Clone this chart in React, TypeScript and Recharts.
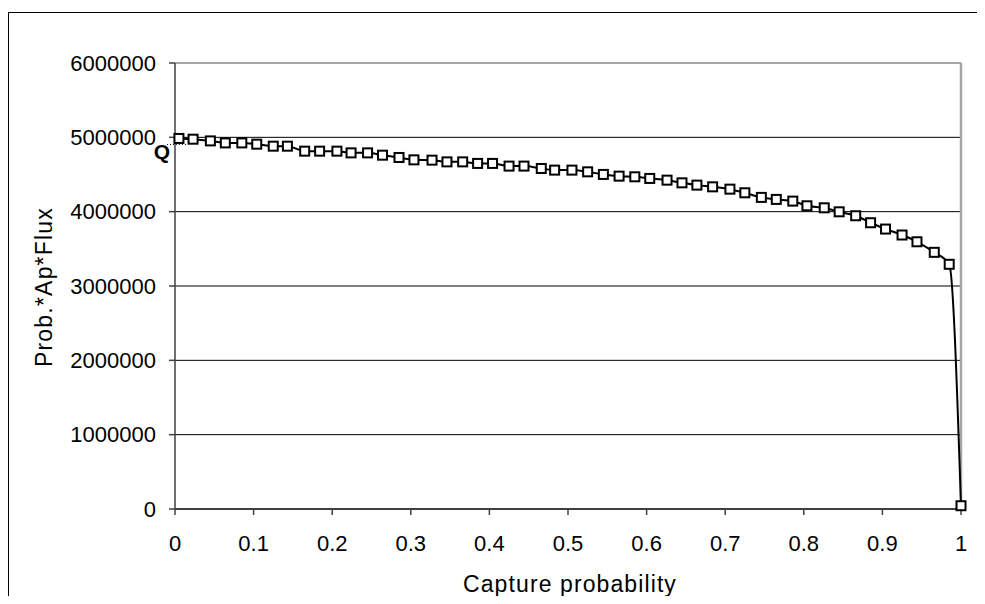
import {
  LineChart,
  Line,
  XAxis,
  YAxis,
  CartesianGrid,
  ReferenceLine,
  LabelList,
  Label,
} from "recharts";

// capture probability (x)
const capture = [
  0.005, 0.023, 0.045, 0.064, 0.085, 0.104, 0.125, 0.143, 0.165, 0.184,
  0.206, 0.224, 0.245, 0.264, 0.285, 0.304, 0.327, 0.346, 0.366, 0.385,
  0.404, 0.425, 0.444, 0.466, 0.483, 0.505, 0.525, 0.545, 0.565, 0.585,
  0.604, 0.626, 0.645, 0.664, 0.684, 0.706, 0.725, 0.746, 0.765, 0.786,
  0.804, 0.826, 0.845, 0.866, 0.885, 0.904, 0.925, 0.944, 0.966, 0.985,
  1.0,
];

// Prob.*Ap*Flux
const flux = [
  4985000, 4975000, 4952000, 4925000, 4925000, 4908000, 4881000, 4881000,
  4814000, 4814000, 4814000, 4791000, 4791000, 4760000, 4729000, 4697000,
  4693000, 4670000, 4670000, 4649000, 4649000, 4613000, 4613000, 4581000,
  4559000, 4559000, 4536000, 4501000, 4478000, 4469000, 4447000, 4424000,
  4388000, 4357000, 4334000, 4303000, 4254000, 4192000, 4165000, 4142000,
  4079000, 4052000, 3998000, 3945000, 3851000, 3766000, 3686000, 3595000,
  3453000, 3292000, 44000,
];

const xTicks = [0, 0.1, 0.2, 0.3, 0.4, 0.5, 0.6, 0.7, 0.8, 0.9, 1];
const yTicks = [0, 1000000, 2000000, 3000000, 4000000, 5000000, 6000000];
const gridLevels = [1000000, 2000000, 3000000, 4000000, 5000000];

const data = capture.map((c, i) => ({ capture: c, flux: flux[i] }));

const FONT = "'Liberation Sans', Arial, sans-serif";

const SquareDot = (props: any) => {
  const { cx, cy, index } = props;
  if (cx == null || cy == null) return null;
  return (
    <rect
      key={"dot" + index}
      x={cx - 4.5}
      y={cy - 4.5}
      width={9}
      height={9}
      fill="#fff"
      stroke="#000"
      strokeWidth={2}
    />
  );
};

const QLabel = (props: any) => {
  const { x, y, index } = props;
  if (index !== 0) return null;
  return (
    <g>
      <line
        x1={x - 12}
        y1={y + 6}
        x2={x + 8}
        y2={y + 6}
        stroke="#000"
        strokeWidth={1}
        strokeDasharray="1 2"
      />
      <text
        x={x - 17}
        y={y + 21}
        textAnchor="middle"
        fontFamily={FONT}
        fontWeight="bold"
        fontSize={21}
        fill="#000"
      >
        Q
      </text>
    </g>
  );
};

const App = () => {
  return (
    <div
      style={{
        position: "relative",
        top: 4,
        width: 976,
        height: 588,
        borderLeft: "1px solid #000",
        borderTop: "1px solid #000",
        boxSizing: "border-box",
        background: "#fff",
      }}
    >
      <LineChart
        width={975}
        height={587}
        data={data}
        margin={{ top: 50, right: 23, bottom: 0, left: 0 }}
        style={{ fontFamily: FONT }}
      >
        <CartesianGrid vertical={false} horizontal={false} stroke="#000" />

        {gridLevels.map((v) => (
          <ReferenceLine key={v} y={v} stroke="#000" strokeWidth={1} />
        ))}

        <ReferenceLine y={6000000} stroke="#a6a6a6" strokeWidth={2} />
        <ReferenceLine x={1} stroke="#a6a6a6" strokeWidth={2.5} />

        <XAxis
          dataKey="capture"
          type="number"
          domain={[0, 1]}
          ticks={xTicks}
          height={91}
          tickSize={6}
          tickMargin={20}
          axisLine={{ stroke: "#404040", strokeWidth: 2 }}
          tickLine={{ stroke: "#404040", strokeWidth: 1.5 }}
          tick={{ fill: "#000", fontSize: 22, fontFamily: FONT }}
        >
          <Label
            content={(p: any) => {
              const vb = p.viewBox;
              return (
                <text
                  x={vb.x + vb.width / 2 + 2}
                  y={vb.y + 83}
                  textAnchor="middle"
                  fontFamily={FONT}
                  fontSize={23}
                  letterSpacing={1.1}
                  fill="#000"
                >
                  Capture probability
                </text>
              );
            }}
          />
        </XAxis>

        <YAxis
          type="number"
          domain={[0, 6000000]}
          ticks={yTicks}
          width={166}
          tickSize={6}
          tickMargin={13}
          axisLine={{ stroke: "#404040", strokeWidth: 1.5 }}
          tickLine={{ stroke: "#404040", strokeWidth: 1.5 }}
          tick={{ fill: "#000", fontSize: 22, fontFamily: FONT }}
        >
          <Label
            content={(p: any) => {
              const vb = p.viewBox;
              const cx = 43;
              const cy = vb.y + vb.height / 2 + 1;
              return (
                <text
                  x={cx}
                  y={cy}
                  transform={`rotate(-90 ${cx} ${cy})`}
                  textAnchor="middle"
                  fontFamily={FONT}
                  fontSize={23}
                  letterSpacing={1.2}
                  fill="#000"
                >
                  Prob.*Ap*Flux
                </text>
              );
            }}
          />
        </YAxis>

        <Line
          type="monotone"
          dataKey="flux"
          stroke="#000"
          strokeWidth={2}
          dot={<SquareDot />}
          activeDot={false}
          isAnimationActive={false}
        >
          <LabelList dataKey="flux" content={<QLabel />} />
        </Line>
      </LineChart>
    </div>
  );
};

export default App;
